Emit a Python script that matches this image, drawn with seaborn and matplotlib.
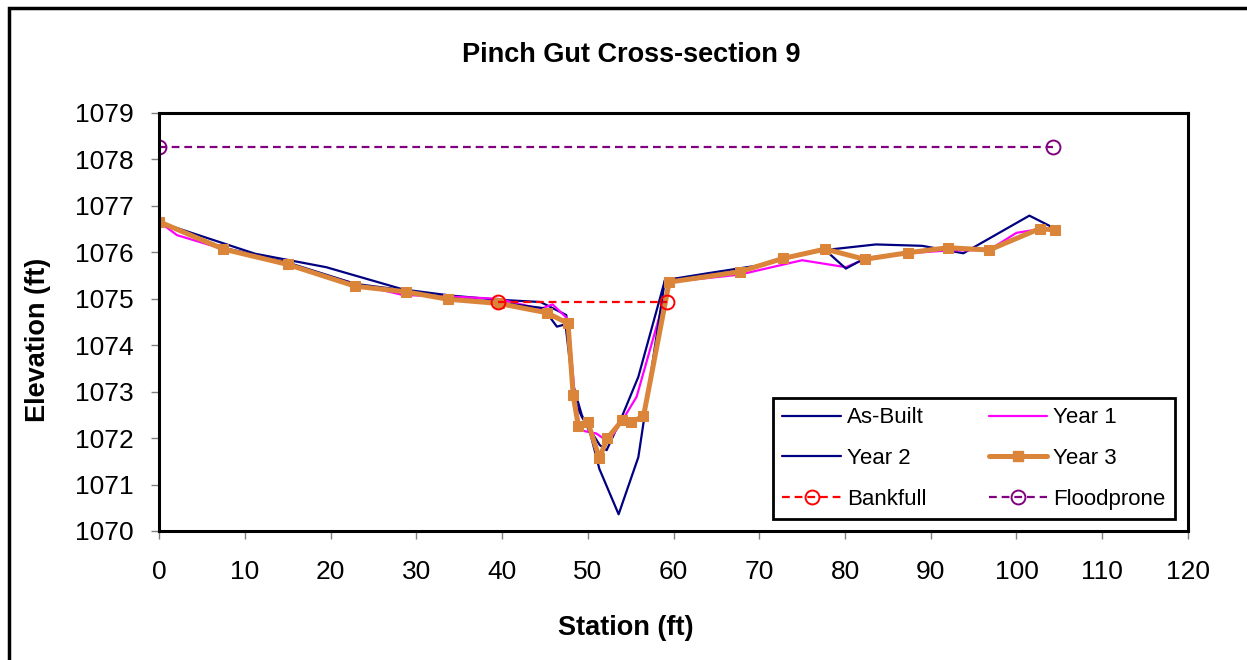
import matplotlib
matplotlib.use("Agg")
import matplotlib.pyplot as plt
import matplotlib.patches as mpatches
import seaborn as sns

# Survey data: station (ft) and elevation (ft) for each survey
asbuilt_station = [0, 11.2, 19.5, 28.5, 34.0, 39.5, 44.5, 47.5, 48.5, 49.3, 51.4, 52.2,
                   53.8, 55.9, 59.0, 64.0, 70.0, 72.8, 77.7, 83.6, 89.0, 93.8, 101.5, 104.5]
asbuilt_elev = [1076.65, 1075.97, 1075.68, 1075.20, 1075.07, 1074.98, 1074.93, 1074.65,
                1072.80, 1072.46, 1071.85, 1071.74, 1072.38, 1073.32, 1075.40, 1075.55,
                1075.72, 1075.88, 1076.05, 1076.17, 1076.14, 1075.98, 1076.79, 1076.51]

year1_station = [0, 2.1, 7.5, 15.0, 22.9, 28.5, 33.7, 39.5, 44.5, 45.9, 47.7, 48.5, 49.1,
                 51.0, 52.4, 53.8, 55.7, 59.5, 67.7, 75.0, 80.1, 82.3, 87.3, 92.0, 96.8,
                 100.0, 102.7, 104.5]
year1_elev = [1076.66, 1076.37, 1076.07, 1075.74, 1075.32, 1075.08, 1075.05, 1075.00,
              1074.78, 1074.88, 1074.56, 1072.89, 1072.17, 1072.10, 1071.92, 1072.31,
              1072.89, 1075.36, 1075.52, 1075.83, 1075.68, 1075.85, 1075.98, 1076.04,
              1076.05, 1076.42, 1076.50, 1076.48]

year2_station = [0, 7.5, 15.0, 22.9, 28.8, 33.7, 39.5, 44.8, 46.4, 47.4, 48.2, 49.3, 50.3,
                 51.35, 53.6, 55.9, 59.0, 67.7, 72.8, 77.7, 80.1, 82.3, 87.3, 92.0, 96.8,
                 102.7, 104.5]
year2_elev = [1076.65, 1076.10, 1075.78, 1075.32, 1075.18, 1075.02, 1074.92, 1074.80,
              1074.40, 1074.45, 1073.20, 1072.50, 1072.10, 1071.34, 1070.36, 1071.59,
              1075.40, 1075.60, 1075.86, 1076.05, 1075.65, 1075.87, 1076.00, 1076.08,
              1076.05, 1076.50, 1076.50]

year3_station = [0, 7.5, 15.0, 22.9, 28.8, 33.7, 39.6, 45.2, 47.7, 48.3, 48.9, 50.0, 51.35,
                 52.3, 54.0, 55.1, 56.5, 59.5, 67.7, 72.8, 77.7, 82.3, 87.3, 92.0, 96.8,
                 102.7, 104.5]
year3_elev = [1076.66, 1076.07, 1075.74, 1075.27, 1075.15, 1074.99, 1074.90, 1074.70,
              1074.47, 1072.92, 1072.26, 1072.35, 1071.57, 1072.00, 1072.38, 1072.35,
              1072.47, 1075.36, 1075.58, 1075.87, 1076.07, 1075.85, 1075.99, 1076.10,
              1076.05, 1076.51, 1076.48]

bankfull_station = [39.5, 59.2]
bankfull_elev = [1074.92, 1074.92]

floodprone_station = [0, 104.3]
floodprone_elev = [1078.27, 1078.27]

x_ticks = list(range(0, 121, 10))
y_ticks = list(range(1070, 1080, 1))

sns.set_style("white")
plt.rcParams["font.family"] = ["Liberation Sans", "DejaVu Sans"]
plt.rcParams["text.color"] = "black"
plt.rcParams["xtick.color"] = "#808080"
plt.rcParams["ytick.color"] = "#808080"
plt.rcParams["xtick.labelcolor"] = "black"
plt.rcParams["ytick.labelcolor"] = "black"

fig = plt.figure(figsize=(12.47, 6.60), dpi=100)
ax = fig.add_axes([159 / 1247, 1 - 531 / 660, 1029 / 1247, 418 / 660])

dash = (0, (3.5, 2.2))
common = dict(ax=ax, sort=False, estimator=None, legend=False)
sns.lineplot(x=asbuilt_station, y=asbuilt_elev, color="#000080", lw=1.6, **common)
sns.lineplot(x=year1_station, y=year1_elev, color="#FF00FF", lw=1.6, **common)
sns.lineplot(x=year2_station, y=year2_elev, color="#000080", lw=1.6, **common)
sns.lineplot(x=year3_station, y=year3_elev, color="#DB853A", lw=3.6,
             marker="s", markersize=6.5, markeredgecolor="#DB853A", **common)
sns.lineplot(x=bankfull_station, y=bankfull_elev, color="#FF0000", lw=1.6,
             linestyle=dash, marker="o", markersize=10,
             markerfacecolor="none", markeredgecolor="#FF0000", markeredgewidth=1.4,
             **common)
sns.lineplot(x=floodprone_station, y=floodprone_elev, color="#800080", lw=1.6,
             linestyle=dash, marker="o", markersize=10,
             markerfacecolor="none", markeredgecolor="#800080", markeredgewidth=1.4,
             **common)

ax.set_xlim(0, 120)
ax.set_ylim(1070, 1079)
ax.set_xticks(x_ticks)
ax.set_yticks(y_ticks)
ax.set_xticklabels([str(v) for v in x_ticks])
ax.set_yticklabels([str(v) for v in y_ticks])
ax.tick_params(axis="both", labelsize=19, direction="out", length=6, width=1,
               color="#808080", labelcolor="black", bottom=True, left=True)
ax.tick_params(axis="x", pad=15)
ax.tick_params(axis="y", pad=12)
for side in ["left", "bottom", "right", "top"]:
    ax.spines[side].set_visible(True)
    ax.spines[side].set_color("black")
    ax.spines[side].set_linewidth(2.2)
ax.set_xlabel("")
ax.set_ylabel("")

# Legend (two columns, row-wise order)
def handle(color, lw, **kw):
    return plt.Line2D([], [], color=color, lw=lw, **kw)

h_asbuilt = handle("#000080", 1.6)
h_year1 = handle("#FF00FF", 1.6)
h_year2 = handle("#000080", 1.6)
h_year3 = handle("#DB853A", 3.6, marker="s", markersize=6.5)
h_bank = handle("#FF0000", 1.6, linestyle=dash, marker="o", markersize=10,
                markerfacecolor="none", markeredgewidth=1.4)
h_flood = handle("#800080", 1.6, linestyle=dash, marker="o", markersize=10,
                 markerfacecolor="none", markeredgewidth=1.4)
leg = ax.legend([h_asbuilt, h_year2, h_bank, h_year1, h_year3, h_flood],
                ["As-Built", "Year 2", "Bankfull", "Year 1", "Year 3", "Floodprone"],
                ncol=2, loc="lower right", bbox_to_anchor=(0.987, 0.029),
                fontsize=16, frameon=True, fancybox=False, framealpha=1,
                edgecolor="black", handlelength=2.65, handletextpad=0.25,
                columnspacing=2.8, labelspacing=0.88, borderpad=0.42,
                borderaxespad=0)
leg.get_frame().set_linewidth(2.0)
for t in leg.get_texts():
    t.set_color("black")

fig.text(631 / 1247, 1 - 55 / 660, "Pinch Gut Cross-section 9", ha="center",
         va="center", fontsize=19.5, fontweight="bold", color="black")
fig.text(626 / 1247, 1 - 628 / 660, "Station (ft)", ha="center", va="center",
         fontsize=19.5, fontweight="bold", color="black")
fig.text(38 / 1247, 1 - 340 / 660, "Elevation (ft)", ha="center", va="center",
         rotation=90, fontsize=19.5, fontweight="bold", color="black")

# Outer chart frame
frame = mpatches.Rectangle((8.5 / 1247, -0.1), 1.2, 1 - 7.5 / 660 + 0.1,
                           transform=fig.transFigure, fill=False, edgecolor="black",
                           linewidth=2.5, clip_on=False)
fig.patches.append(frame)

fig.savefig("out.png", dpi=100, facecolor="white")
